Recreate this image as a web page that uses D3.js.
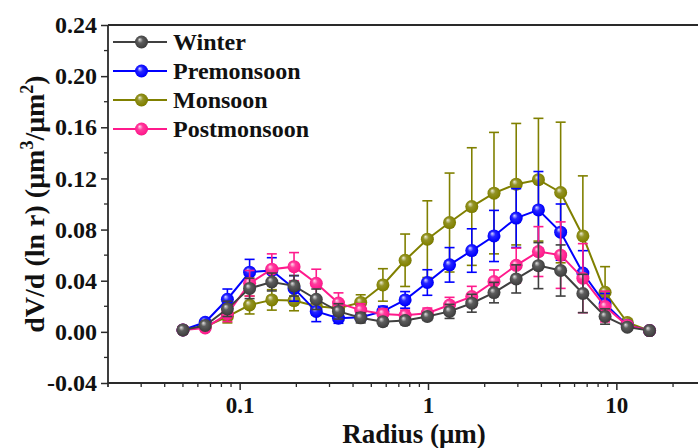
<!DOCTYPE html>
<html><head><meta charset="utf-8">
<script src="https://cdn.jsdelivr.net/npm/d3@7/dist/d3.min.js"></script>
<style>html,body{margin:0;padding:0;background:#fff;overflow:hidden}svg{display:block}</style>
</head><body>
<script>
const radius = [0.05,0.065604,0.086077,0.112939,0.148184,0.194429,0.255105,0.334716,0.439173,0.576227,0.756052,0.991996,1.301571,1.707757,2.240702,2.939966,3.857452,5.06126,6.640745,8.713145,11.432287,15.0];
const seriesNames = ["Winter","Premonsoon","Monsoon","Postmonsoon"];
const winter = [0.0015,0.005,0.018,0.034,0.039,0.036,0.0255,0.016,0.011,0.008,0.0088,0.012,0.016,0.0224,0.0307,0.0414,0.0518,0.048,0.030,0.012,0.0037,0.001];
const winterErr = [0.001,0.002,0.006,0.008,0.007,0.008,0.008,0.006,0.004,0.003,0.003,0.003,0.0055,0.007,0.008,0.011,0.018,0.02,0.015,0.006,0.002,0.001];
const premonsoon = [0.0015,0.0075,0.0255,0.0467,0.048,0.034,0.016,0.0107,0.0115,0.016,0.025,0.0386,0.0524,0.0636,0.075,0.089,0.0954,0.078,0.046,0.022,0.005,0.001];
const premonsoonErr = [0.001,0.002,0.008,0.01,0.01,0.01,0.008,0.004,0.003,0.004,0.0065,0.01,0.0135,0.017,0.02,0.023,0.03,0.022,0.0175,0.008,0.002,0.001];
const monsoon = [0.0015,0.004,0.012,0.021,0.025,0.0245,0.020,0.0185,0.023,0.0367,0.056,0.0725,0.0855,0.098,0.1085,0.1155,0.119,0.109,0.075,0.031,0.0073,0.001];
const monsoonErr = [0.001,0.002,0.005,0.007,0.008,0.008,0.007,0.006,0.006,0.0127,0.0205,0.03,0.0387,0.046,0.0475,0.0475,0.048,0.055,0.047,0.02,0.003,0.001];
const postmonsoon = [0.0015,0.003,0.014,0.038,0.049,0.051,0.038,0.0225,0.017,0.014,0.013,0.0146,0.021,0.0276,0.0394,0.052,0.0628,0.060,0.042,0.0198,0.005,0.001];
const postmonsoonErr = [0.001,0.002,0.006,0.01,0.012,0.011,0.011,0.008,0.005,0.004,0.004,0.004,0.006,0.008,0.009,0.0135,0.0195,0.026,0.027,0.012,0.003,0.001];
const yTicks = [-0.04,0.00,0.04,0.08,0.12,0.16,0.20,0.24];
const xTicks = [0.1,1,10];
const colors = {Winter:"#404040",Premonsoon:"#0000ff",Monsoon:"#808000",Postmonsoon:"#ff1a8c"};

const W=698,H=448;
const svg=d3.select("body").append("svg").attr("width",W).attr("height",H);
const x=d3.scaleLog().domain([0.02,50]).range([108,748]);
const y=d3.scaleLinear().domain([-0.04,0.24]).range([383,25]);
const font="'Liberation Serif','Times New Roman',serif";

const defs=svg.append("defs");
function shade(c,k){return d3.interpolateRgb(c,k>0?"#ffffff":"#000000")(Math.abs(k));}
seriesNames.forEach((n,i)=>{
  const c=colors[n];
  const g=defs.append("radialGradient").attr("id","g"+i).attr("cx","50%").attr("cy","50%").attr("r","60%").attr("fx","35%").attr("fy","30%");
  g.append("stop").attr("offset","0%").attr("stop-color",shade(c,0.85));
  g.append("stop").attr("offset","35%").attr("stop-color",shade(c,0.15));
  g.append("stop").attr("offset","80%").attr("stop-color",c);
  g.append("stop").attr("offset","100%").attr("stop-color",shade(c,-0.35));
});

const axisColor="#2a2a2a";
svg.append("line").attr("x1",108).attr("x2",W).attr("y1",25).attr("y2",25).attr("stroke",axisColor).attr("stroke-width",1.8);
// y axis
const yAxis=d3.axisLeft(y).tickValues(yTicks).tickFormat(d=>d3.format(".2f")(d).replace("\u2212","-")).tickSize(7).tickPadding(4);
const gy=svg.append("g").attr("transform","translate(108,0)").call(yAxis);
gy.select(".domain").attr("stroke",axisColor).attr("stroke-width",1.8).attr("d","M0,25V383");
gy.selectAll(".tick line").attr("stroke",axisColor).attr("stroke-width",1.5);
gy.selectAll("text").attr("font-family",font).attr("font-weight","bold").attr("font-size",24).attr("fill","#111");
const yMinor=d3.range(-0.02,0.24,0.04);
svg.append("g").selectAll("line").data(yMinor).join("line").attr("x1",104).attr("x2",108).attr("y1",d=>y(d)).attr("y2",d=>y(d)).attr("stroke",axisColor).attr("stroke-width",1.3);
// x axis
const xAxis=d3.axisBottom(x).tickValues(xTicks).tickFormat(d=>d3.format("")(d)).tickSize(7);
const gx=svg.append("g").attr("transform","translate(0,383)").call(xAxis);
gx.select(".domain").attr("stroke",axisColor).attr("stroke-width",1.8).attr("d","M108,0H"+W);
gx.selectAll(".tick line").attr("stroke",axisColor).attr("stroke-width",1.5);
gx.selectAll("text").attr("y",30).attr("dy",0).attr("font-family",font).attr("font-weight","bold").attr("font-size",23).attr("fill","#111");
const xMinor=[];
[0.01,0.1,1,10].forEach(b=>{for(let k=2;k<=9;k++){const v=b*k;if(v>0.02-1e-9&&v<=50)xMinor.push(v);}});
xMinor.push(0.02);
svg.append("g").selectAll("line").data(xMinor).join("line").attr("x1",d=>x(d)).attr("x2",d=>x(d)).attr("y1",383).attr("y2",387).attr("stroke",axisColor).attr("stroke-width",1.3);

// axis titles
svg.append("text").attr("x",414).attr("y",443).attr("text-anchor","middle").attr("font-family",font).attr("font-weight","bold").attr("font-size",27).attr("fill","#111").text("Radius (\u03bcm)");
const yt=svg.append("text").attr("transform","translate(44,204) rotate(-90)").attr("text-anchor","middle").attr("font-family",font).attr("font-weight","bold").attr("font-size",28).attr("fill","#111");
yt.append("tspan").text("dV/d (ln r) (\u03bcm");
yt.append("tspan").attr("dy",-11).attr("font-size",18).text("3");
yt.append("tspan").attr("dy",11).text("/\u03bcm");
yt.append("tspan").attr("dy",-11).attr("font-size",18).text("2");
yt.append("tspan").attr("dy",11).text(")");

// series
const data={Winter:[winter,winterErr],Premonsoon:[premonsoon,premonsoonErr],Monsoon:[monsoon,monsoonErr],Postmonsoon:[postmonsoon,postmonsoonErr]};
const drawOrder=["Monsoon","Premonsoon","Postmonsoon","Winter"];
const line=d3.line().x(d=>x(d.r)).y(d=>y(d.v));
drawOrder.forEach(n=>{
  const i=seriesNames.indexOf(n);
  const c=colors[n];
  const pts=radius.map((r,j)=>({r:r,v:data[n][0][j],e:data[n][1][j]}));
  const g=svg.append("g");
  const eb=g.append("g").selectAll("g").data(pts).join("g");
  eb.append("line").attr("x1",d=>x(d.r)).attr("x2",d=>x(d.r)).attr("y1",d=>y(d.v+d.e)).attr("y2",d=>y(d.v-d.e)).attr("stroke",c).attr("stroke-width",1.6);
  eb.append("line").attr("x1",d=>x(d.r)-5).attr("x2",d=>x(d.r)+5).attr("y1",d=>y(d.v+d.e)).attr("y2",d=>y(d.v+d.e)).attr("stroke",c).attr("stroke-width",1.6);
  eb.append("line").attr("x1",d=>x(d.r)-5).attr("x2",d=>x(d.r)+5).attr("y1",d=>y(d.v-d.e)).attr("y2",d=>y(d.v-d.e)).attr("stroke",c).attr("stroke-width",1.6);
  g.append("path").datum(pts).attr("d",line).attr("fill","none").attr("stroke",c).attr("stroke-width",2);
  g.append("g").selectAll("circle").data(pts).join("circle").attr("cx",d=>x(d.r)).attr("cy",d=>y(d.v)).attr("r",6.5).attr("fill","url(#g"+i+")");
});

// legend
const legY=[42,71,100,129];
seriesNames.forEach((n,i)=>{
  const c=colors[n];
  const lg=svg.append("g");
  lg.append("line").attr("x1",113).attr("x2",167).attr("y1",legY[i]).attr("y2",legY[i]).attr("stroke",c).attr("stroke-width",2);
  lg.append("circle").attr("cx",141.5).attr("cy",legY[i]).attr("r",6.5).attr("fill","url(#g"+i+")");
  lg.append("text").attr("x",173).attr("y",legY[i]+8).attr("font-family",font).attr("font-weight","bold").attr("font-size",24).attr("fill","#111").text(n);
});
</script>
</body></html>
